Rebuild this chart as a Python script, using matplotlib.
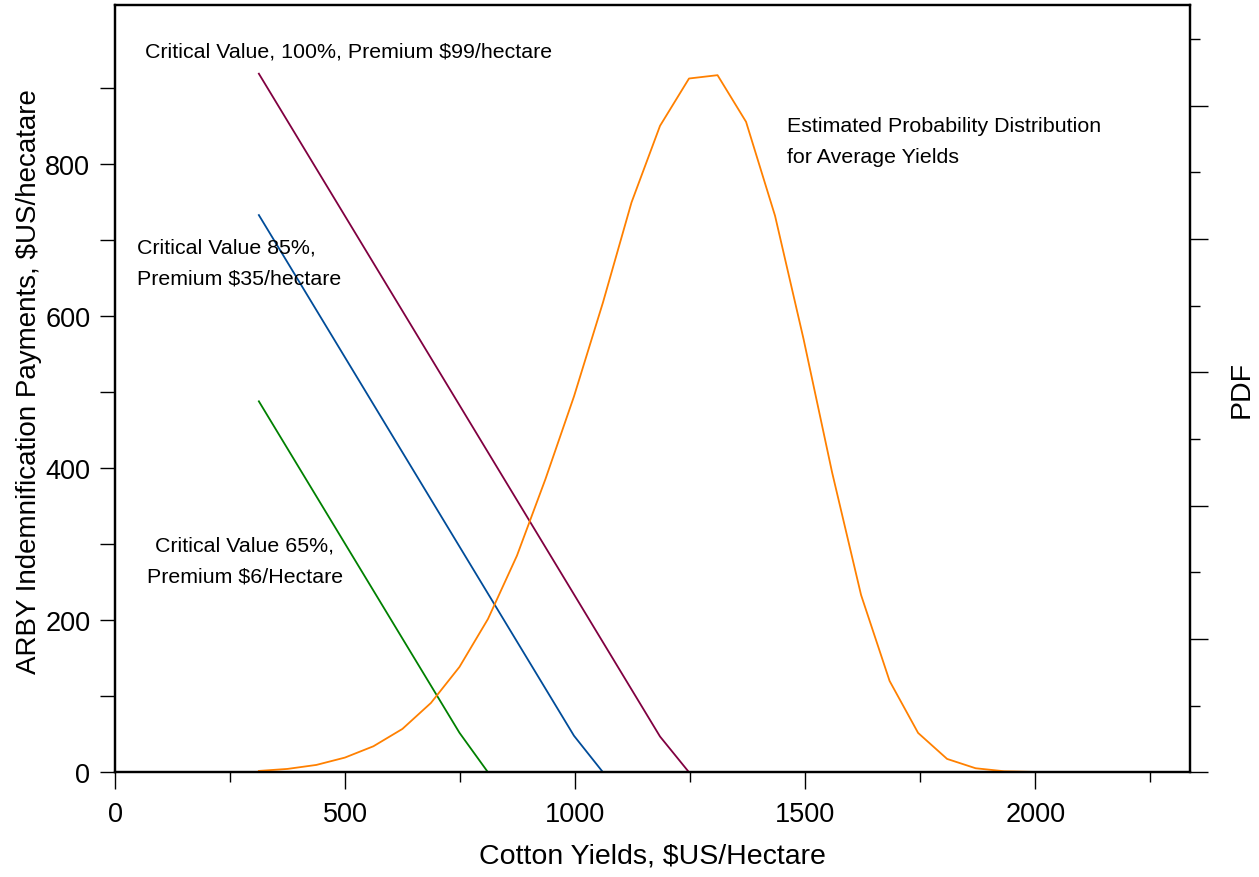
import matplotlib.pyplot as plt
from matplotlib.ticker import MultipleLocator, FixedLocator, NullFormatter

plt.rcParams['font.family'] = ['Liberation Sans', 'DejaVu Sans']

# rendimentos (eixo x) e pagamentos
yields = [312, 374, 437, 499, 561, 624, 686, 748, 810, 873,
          935, 997, 1060, 1122, 1184, 1247, 1309, 1371, 1434, 1496,
          1558, 1621, 1683, 1745, 1808, 1870, 1932, 1995, 2057, 2119]

pay_100 = [919, 857, 794, 732, 670, 607, 545, 483, 421, 358,
           296, 234, 171, 109, 47, 0, 0, 0, 0, 0,
           0, 0, 0, 0, 0, 0, 0, 0, 0, 0]
pay_85 = [733, 671, 608, 546, 484, 421, 359, 297, 235, 172,
          110, 48, 0, 0, 0, 0, 0, 0, 0, 0,
          0, 0, 0, 0, 0, 0, 0, 0, 0, 0]
pay_65 = [488, 426, 363, 301, 239, 176, 114, 52, 0, 0,
          0, 0, 0, 0, 0, 0, 0, 0, 0, 0,
          0, 0, 0, 0, 0, 0, 0, 0, 0, 0]

# densidade estimada (eixo da direita)
pdf = [0.000002, 0.000005, 0.000011, 0.000022, 0.000039, 0.000065, 0.000104, 0.000158, 0.000230, 0.000325,
       0.000440, 0.000564, 0.000705, 0.000855, 0.000970, 0.001041, 0.001046, 0.000976, 0.000835, 0.000650,
       0.000450, 0.000266, 0.000137, 0.000059, 0.000020, 0.000006, 0.0000015, 0.0000005, 0.0000001, 0.0]

y_ticks = [0, 200, 400, 600, 800]
y_minor = [100, 300, 500, 700, 900]


def main():
    fig = plt.figure(figsize=(12.59, 8.78), dpi=100)
    ax = fig.add_axes([0.0916, 0.1193, 0.8536, 0.8744])

    ax.plot(yields, pay_100, color='#800040', lw=1.3)
    ax.plot(yields, pay_85, color='#004c99', lw=1.3)
    ax.plot(yields, pay_65, color='#008000', lw=1.3)
    ax.set_xlim(0, 2336)
    ax.set_ylim(0, 1010)

    ax.xaxis.set_major_locator(MultipleLocator(500))
    ax.xaxis.set_minor_locator(MultipleLocator(250))
    ax.yaxis.set_major_locator(FixedLocator(y_ticks))
    ax.yaxis.set_minor_locator(FixedLocator(y_minor))
    ax.tick_params(axis='x', which='major', length=12, width=1, labelsize=19.5, pad=9)
    ax.tick_params(axis='x', which='minor', length=7, width=1)
    ax.tick_params(axis='y', which='both', length=11, width=1, labelsize=19.5, pad=7)
    for s in ax.spines.values():
        s.set_linewidth(1.6)

    ax.set_xlabel('Cotton Yields, $US/Hectare', fontsize=20.5)
    ax.xaxis.set_label_coords(0.5, -0.091)
    ax.set_ylabel('ARBY Indemnification Payments, $US/hecatare', fontsize=20)
    ax.yaxis.set_label_coords(-0.068, 0.5096)

    ax2 = ax.twinx()
    ax2.plot(yields, pdf, color='#ff8000', lw=1.3)
    ax2.set_ylim(0, 0.001152)
    ax2.yaxis.set_major_locator(MultipleLocator(0.0002))
    ax2.yaxis.set_minor_locator(MultipleLocator(0.0001))
    ax2.yaxis.set_major_formatter(NullFormatter())
    ax2.tick_params(axis='y', which='major', length=13, width=1)
    ax2.tick_params(axis='y', which='minor', length=7, width=1)
    for s in ax2.spines.values():
        s.set_linewidth(1.6)
    ax2.set_ylabel('PDF', fontsize=20.5)
    ax2.yaxis.set_label_coords(1.036, 0.5)

    fs = 15.4
    ax.text(0.0275, 0.9394, 'Critical Value, 100%, Premium $99/hectare',
            transform=ax.transAxes, fontsize=fs, va='center')
    ax.text(0.625, 0.822, 'Estimated Probability Distribution\nfor Average Yields',
            transform=ax.transAxes, fontsize=fs, va='center', linespacing=1.8)
    ax.text(0.0202, 0.664, 'Critical Value 85%,\nPremium $35/hectare',
            transform=ax.transAxes, fontsize=fs, va='center', linespacing=1.8)
    ax.text(0.1205, 0.2758, 'Critical Value 65%,\nPremium $6/Hectare',
            transform=ax.transAxes, fontsize=fs, va='center', ha='center',
            multialignment='center', linespacing=1.8)

    fig.savefig('out.png', dpi=100)


if __name__ == '__main__':
    main()
